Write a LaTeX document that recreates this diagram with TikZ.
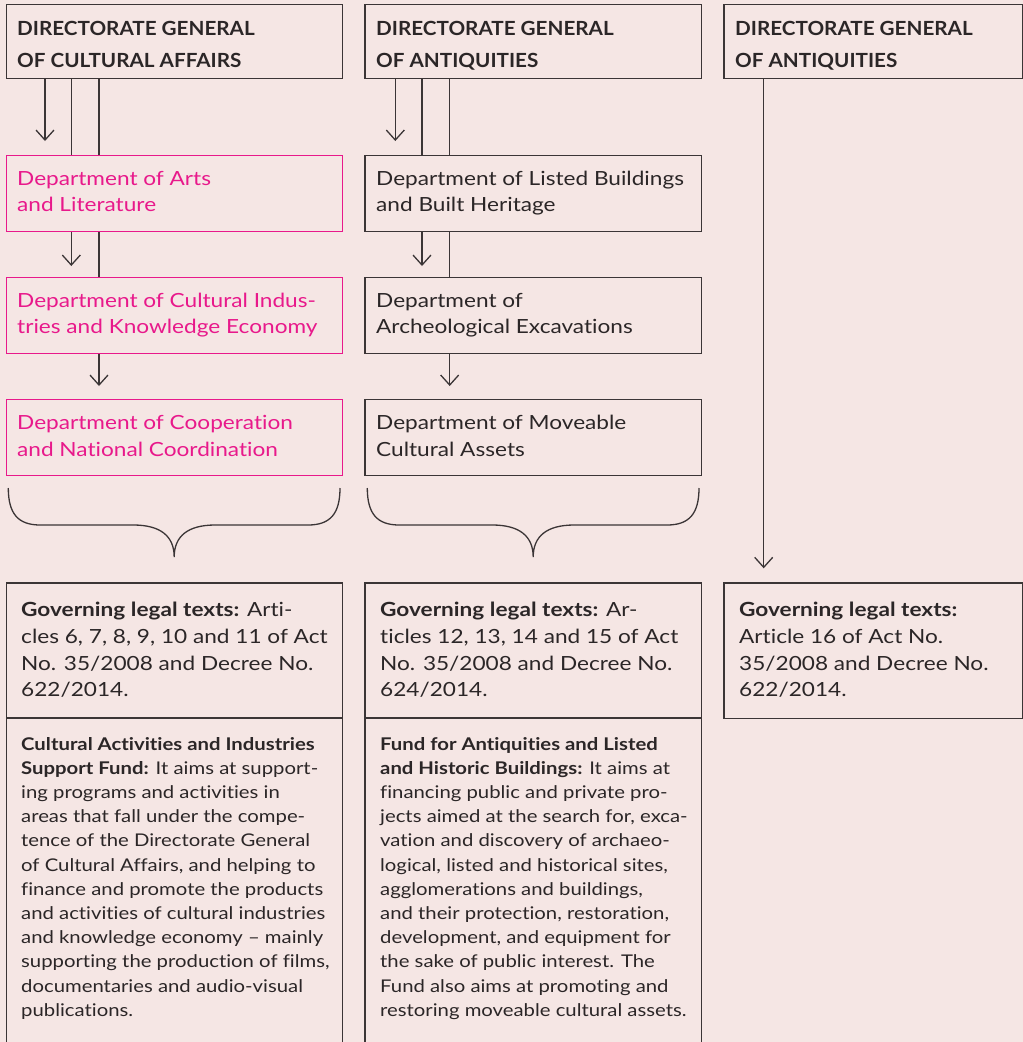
\documentclass[tikz,border=0pt]{standalone}
\usepackage{fontspec}
\setmainfont{Lato}[FakeStretch=1.16, Ligatures=NoCommon]
\newfontfamily\hdrfont{Lato}[FakeStretch=1.06, Ligatures=NoCommon]
\usetikzlibrary{arrows.meta,calc}

\definecolor{bgpink}{HTML}{F5E6E4}
\definecolor{ink}{HTML}{3B3536}
\definecolor{txt}{HTML}{2B2627}
\definecolor{deptpink}{HTML}{E8198B}

% text blocks: the reference point of each block is the baseline of its first line
\newcommand\hdrtext[1]{\parbox[t]{400pt}{\raggedright\hdrfont\fontsize{19.5}{32}\selectfont\bfseries #1}}
\newcommand\depttext[1]{\parbox[t]{400pt}{\raggedright\fontsize{19.5}{26.7}\selectfont #1}}
\newcommand\fundtext[1]{\parbox[t]{400pt}{\raggedright\fontsize{17.5}{24.2}\selectfont #1}}

\begin{document}
\begin{tikzpicture}[x=1pt,y=-1pt,
  frame/.style={draw=ink, line width=1.4pt, rectangle, inner sep=0pt, anchor=north west},
  pinkframe/.style={frame, draw=deptpink},
  label/.style={anchor=base west, inner sep=0pt, text=txt},
  pinklabel/.style={label, text=deptpink},
  link/.style={draw=ink, line width=1.3pt},
  arr/.style={link, -{Straight Barb[length=10pt,width=18pt]}},
  brace/.style={draw=ink, line width=1.3pt},
]
\useasboundingbox (0,0) rectangle (1023,1042);
\fill[bgpink] (0,0) rectangle (1023,1042);
\clip (0,0) rectangle (1023,1042);

% ---------- column 1: Directorate General of Cultural Affairs ----------
\node[frame, minimum width=336.5pt, minimum height=74.5pt] (h1) at (5.5,3.5) {};
\node[label] (h1t) at (17,35) {\hdrtext{DIRECTORATE GENERAL\\OF CULTURAL AFFAIRS}};

\node[pinkframe, minimum width=336.5pt, minimum height=76pt] (c1a) at (5.5,155) {};
\node[pinklabel] (c1at) at (17,185) {\depttext{Department of Arts\\and Literature}};

\node[pinkframe, minimum width=336.5pt, minimum height=76pt] (c1b) at (5.5,277) {};
\node[pinklabel] (c1bt) at (17,307) {\depttext{Department of Cultural Indus-\\tries and Knowledge Economy}};

\node[pinkframe, minimum width=336.5pt, minimum height=76pt] (c1c) at (5.5,399) {};
\node[pinklabel] (c1ct) at (17,429.5) {\depttext{Department of Cooperation\\and National Coordination}};

\draw[arr, shorten >=14pt] ([xshift=39.5pt]h1.south west) -- ([xshift=39.5pt]c1a.north west);
\draw[link] ([xshift=65.8pt]h1.south west) -- ([xshift=65.8pt]c1a.north west);
\draw[link] ([xshift=93.5pt]h1.south west) -- ([xshift=93.5pt]c1a.north west);
\draw[arr, shorten >=11pt] ([xshift=65.8pt]c1a.south west) -- ([xshift=65.8pt]c1b.north west);
\draw[link] ([xshift=93.5pt]c1a.south west) -- ([xshift=93.5pt]c1b.north west);
\draw[arr, shorten >=13pt] ([xshift=93.5pt]c1b.south west) -- ([xshift=93.5pt]c1c.north west);

\draw[brace, shift={(8.3,488)}]
  (0,0) .. controls (0,26) and (10,37) .. (32,37) -- (125,37)
  .. controls (152,37) and (165.9,48) .. (165.9,69)
  .. controls (165.9,48) and (179.8,37) .. (206.8,37) -- (299.7,37)
  .. controls (321.7,37) and (331.7,26) .. (331.7,0);

\node[frame, minimum width=336.5pt, minimum height=135pt] (l1) at (5.5,582.3) {};
\node[label] (l1t) at (21,616.7) {\depttext{\textbf{Governing legal texts:} Arti-\\cles 6, 7, 8, 9, 10 and 11 of Act\\No. 35/2008 and Decree No.\\622/2014.}};
\node[frame, minimum width=336.5pt, minimum height=345pt] (f1) at (5.5,717.3) {};
\node[label] (f1t) at (21,750) {\fundtext{\textbf{Cultural Activities and Industries}\\\textbf{Support Fund:} It aims at support-\\ing programs and activities in\\areas that fall under the compe-\\tence of the Directorate General\\of Cultural Affairs, and helping to\\finance and promote the products\\and activities of cultural industries\\and knowledge economy -- mainly\\supporting the production of films,\\documentaries and audio-visual\\publications.}};

% ---------- column 2: Directorate General of Antiquities ----------
\node[frame, minimum width=336.2pt, minimum height=74.5pt] (h2) at (364.3,3.5) {};
\node[label] (h2t) at (376,35) {\hdrtext{DIRECTORATE GENERAL\\OF ANTIQUITIES}};

\node[frame, minimum width=336.2pt, minimum height=76pt] (c2a) at (364.3,155) {};
\node[label] (c2at) at (376,185) {\depttext{Department of Listed Buildings\\and Built Heritage}};

\node[frame, minimum width=336.2pt, minimum height=76pt] (c2b) at (364.3,277) {};
\node[label] (c2bt) at (376,307) {\depttext{Department of\\Archeological Excavations}};

\node[frame, minimum width=336.2pt, minimum height=76pt] (c2c) at (364.3,399) {};
\node[label] (c2ct) at (376,429.5) {\depttext{Department of Moveable\\Cultural Assets}};

\draw[arr, shorten >=14pt] ([xshift=31pt]h2.south west) -- ([xshift=31pt]c2a.north west);
\draw[link] ([xshift=57.7pt]h2.south west) -- ([xshift=57.7pt]c2a.north west);
\draw[link] ([xshift=85.4pt]h2.south west) -- ([xshift=85.4pt]c2a.north west);
\draw[arr, shorten >=11pt] ([xshift=57.7pt]c2a.south west) -- ([xshift=57.7pt]c2b.north west);
\draw[link] ([xshift=85.4pt]c2a.south west) -- ([xshift=85.4pt]c2b.north west);
\draw[arr, shorten >=13pt] ([xshift=85.4pt]c2b.south west) -- ([xshift=85.4pt]c2c.north west);

\draw[brace, shift={(367.3,488)}]
  (0,0) .. controls (0,26) and (10,37) .. (32,37) -- (125,37)
  .. controls (152,37) and (165.9,48) .. (165.9,69)
  .. controls (165.9,48) and (179.8,37) .. (206.8,37) -- (299.7,37)
  .. controls (321.7,37) and (331.7,26) .. (331.7,0);

\node[frame, minimum width=336.2pt, minimum height=135pt] (l2) at (364.3,582.3) {};
\node[label] (l2t) at (380,616.7) {\depttext{\textbf{Governing legal texts:} Ar-\\ticles 12, 13, 14 and 15 of Act\\No. 35/2008 and Decree No.\\624/2014.}};
\node[frame, minimum width=336.2pt, minimum height=345pt] (f2) at (364.3,717.3) {};
\node[label] (f2t) at (380,750) {\fundtext{\textbf{Fund for Antiquities and Listed}\\\textbf{and Historic Buildings:} It aims at\\financing public and private pro-\\jects aimed at the search for, exca-\\vation and discovery of archaeo-\\logical, listed and historical sites,\\agglomerations and buildings,\\and their protection, restoration,\\development, and equipment for\\the sake of public interest. The\\Fund also aims at promoting and\\restoring moveable cultural assets.}};

% ---------- column 3: Directorate General of Antiquities ----------
\node[frame, minimum width=298.7pt, minimum height=74.5pt] (h3) at (723.3,3.5) {};
\node[label] (h3t) at (735,35) {\hdrtext{DIRECTORATE GENERAL\\OF ANTIQUITIES}};

\node[frame, minimum width=298.7pt, minimum height=135.3pt] (l3) at (723.3,582.3) {};
\node[label] (l3t) at (739,616.7) {\depttext{\textbf{Governing legal texts:}\\Article 16 of Act No.\\35/2008 and Decree No.\\622/2014.}};

\draw[arr, shorten >=14pt] ([xshift=40.4pt]h3.south west) -- ([xshift=40.4pt]l3.north west);
\end{tikzpicture}
\end{document}
